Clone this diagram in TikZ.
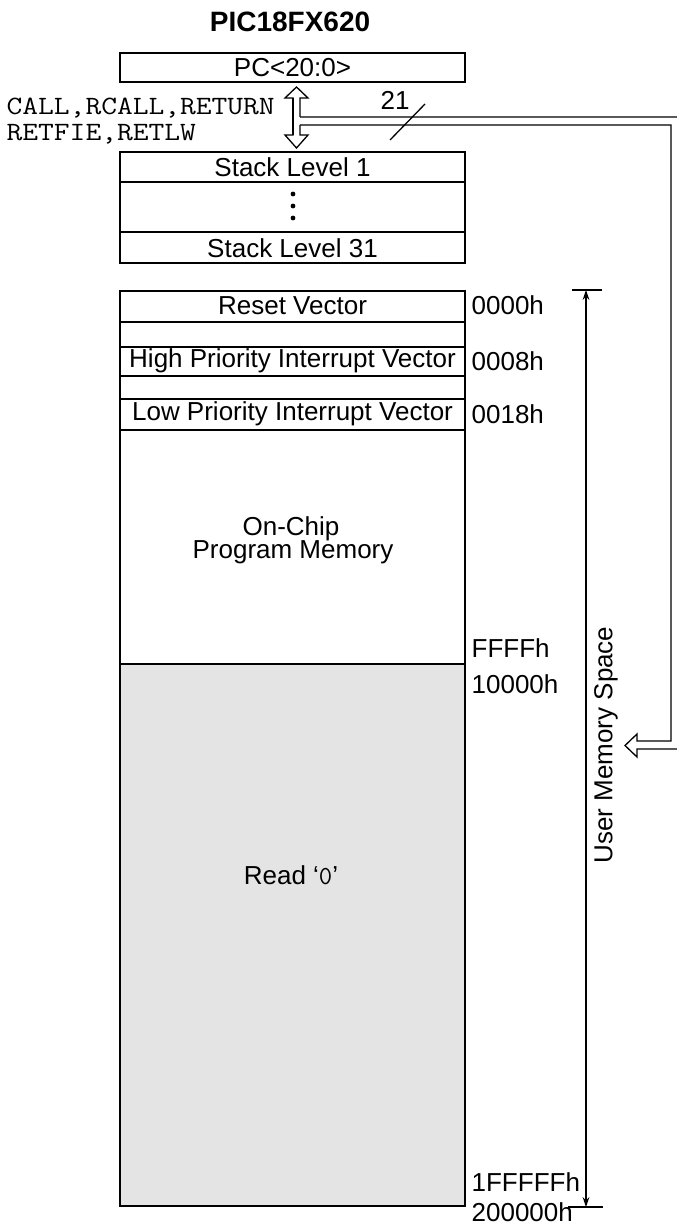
\documentclass[tikz,border=0pt]{standalone}
\usepackage{fontspec}
\setmainfont{Liberation Sans}
\usetikzlibrary{arrows.meta}
\definecolor{readgray}{RGB}{228,228,228}
\begin{document}
\begin{tikzpicture}[x=0.5pt,y=-0.5pt,line width=0.65pt,
  lbl/.style={font=\fontsize{13}{15}\selectfont,inner sep=0pt},
  addr/.style={lbl,anchor=west},
  mono/.style={font=\ttfamily\fontsize{13.2}{15}\selectfont,inner sep=0pt,anchor=west},
  ]
\useasboundingbox (0,0) rectangle (676,1225);
% title
\node[font=\bfseries\fontsize{14}{16}\selectfont,inner sep=0pt] (title) at (290,22) {PIC18FX620};
% PC
\draw (120,53) rectangle (465,82);
\node[lbl] (pc) at (292.5,68) {PC<20:0>};
% stack
\draw (120,152) rectangle (465,263);
\draw (120,182) -- (465,182);
\draw (120,232) -- (465,232);
\node[lbl] (s1) at (292.5,167) {Stack Level 1};
\node[lbl] (s31) at (292.5,248) {Stack Level 31};
\fill (293,194) circle[radius=2.4];
\fill (293,206) circle[radius=2.4];
\fill (293,218) circle[radius=2.4];
% instructions
\node[mono] (calls) at (6,108) {\scalebox{1.16}[1]{CALL,RCALL,RETURN}};
\node[mono] (rets) at (6,134) {\scalebox{1.16}[1]{RETFIE,RETLW}};
% double arrow + bus
\draw[line join=miter] (300,117) -- (300,98) -- (308,98) -- (296.5,87) -- (285,98) -- (293,98)
  -- (293,135) -- (285,135) -- (296.5,148) -- (308,135) -- (300,135) -- (300,125);
\draw[line width=1.1pt] (293,98) -- (293,135);
\draw[line join=miter] (300,117) -- (690,117) -- (690,749) -- (637,749) -- (637,757)
  -- (625,745.5) -- (637,734) -- (637,741) -- (671,741) -- (671,125) -- (300,125);
\draw (390,140) -- (425,104);
\node[lbl] (w21) at (395,100) {21};
% memory
\fill[readgray] (120,664) rectangle (465,1206);
\draw (120,291) rectangle (465,1206);
\foreach \yy in {322,347,376,399,430,664} \draw (120,\yy) -- (465,\yy);
\draw[line width=1.1pt] (120,291) -- (120,430);
\node[lbl] (rv) at (292.5,306) {Reset Vector};
\node[lbl] (hp) at (292.5,361) {High Priority Interrupt Vector};
\node[lbl] (lp) at (292.5,414) {Low Priority Interrupt Vector};
\node[lbl,anchor=base] (oc1) at (291,535) {On-Chip};
\node[lbl,anchor=base] (oc2) at (293,558) {Program Memory};
\node[lbl] (rd) at (291,875) {Read ‘{\ttfamily 0}’};
% addresses
\node[addr] (a0) at (471,305) {0000h};
\node[addr] (a8) at (471,361) {0008h};
\node[addr] (a18) at (471,414) {0018h};
\node[addr] (affff) at (471,648) {FFFFh};
\node[addr] (a10000) at (471,684) {10000h};
\node[addr] (a1f) at (471,1182) {1FFFFFh};
\node[addr] (a2) at (471,1212) {200000h};
% user memory space
\coordinate (umtop) at (586,290);
\coordinate (umbot) at (586,1207);
\draw (572,290) -- (602,290);
\draw (568,1207) -- (603,1207);
\draw[{Stealth[length=5pt,width=3.4pt]}-{Stealth[length=5pt,width=3.4pt]}] (umtop) -- (umbot);
\node[lbl,rotate=90] (ums) at (606,745) {User Memory Space};
\end{tikzpicture}
\end{document}
